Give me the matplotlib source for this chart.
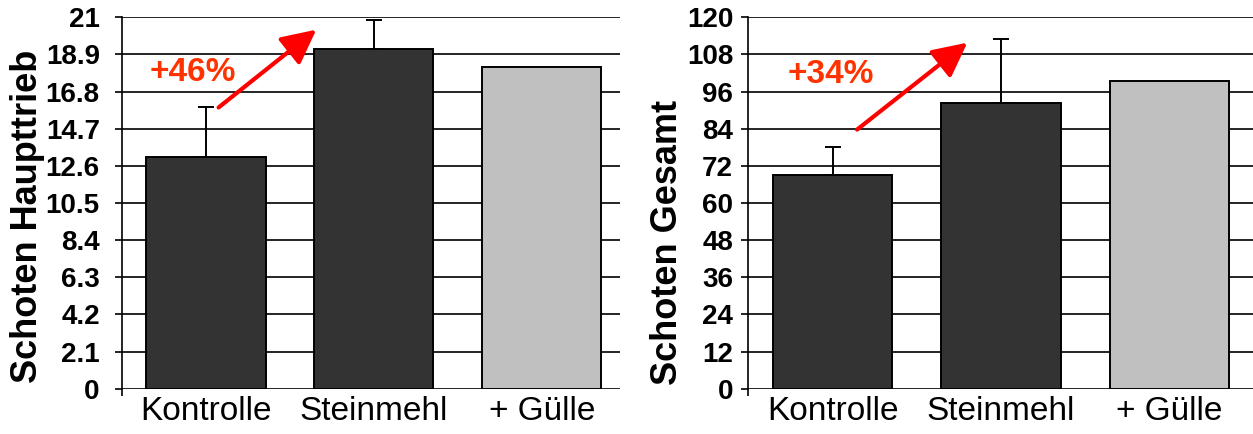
import matplotlib
matplotlib.use('Agg')
import matplotlib.pyplot as plt

plt.rcParams['font.family'] = ['Liberation Sans', 'DejaVu Sans']

categories = ['Kontrolle', 'Steinmehl', '+ Gülle']
bar_colors = ['#333333', '#333333', '#C0C0C0']

haupttrieb_values = [13.12, 19.2, 18.19]
haupttrieb_errors = [2.82, 1.64, 0.0]
haupttrieb_ticks = [0, 2.1, 4.2, 6.3, 8.4, 10.5, 12.6, 14.7, 16.8, 18.9, 21]
haupttrieb_ticklabels = ['0', '2.1', '4.2', '6.3', '8.4', '10.5', '12.6', '14.7', '16.8', '18.9', '21']

gesamt_values = [69.1, 92.4, 99.3]
gesamt_errors = [9.1, 20.6, 0.0]
gesamt_ticks = [0, 12, 24, 36, 48, 60, 72, 84, 96, 108, 120]
gesamt_ticklabels = [str(t) for t in gesamt_ticks]


def draw_panel(ax, values, errors, ticks, ticklabels, ylabel, pct_text,
               text_pos, arrow_start, arrow_end, xmax, label_pos, tick_pad):
    x = range(len(categories))
    ax.bar(x, values, width=0.71, color=bar_colors, edgecolor='black',
           linewidth=1.4, zorder=3)
    # one-sided error bars (only upward), none for the last bar
    for xi, v, e in zip(x, values, errors):
        if e > 0:
            ax.errorbar(xi, v, yerr=[[0], [e]], fmt='none', ecolor='black',
                        elinewidth=1.4, capsize=6, capthick=1.4, zorder=2)

    ax.set_xlim(-0.5, xmax)
    ax.set_ylim(0, ticks[-1])
    ax.set_yticks(ticks)
    ax.set_yticklabels(ticklabels, fontsize=20, fontweight='bold')
    ax.set_xticks(list(x))
    ax.set_xticklabels(categories, fontsize=24)
    ax.tick_params(axis='x', length=0, pad=5)
    ax.tick_params(axis='y', length=5, width=1.2, pad=tick_pad)
    ax.set_xticks([-0.5], minor=True)
    ax.tick_params(axis='x', which='minor', length=5, width=1.2)

    ax.yaxis.grid(True, color='black', linewidth=1.2, zorder=0)
    ax.set_axisbelow(True)
    for side in ('top', 'right', 'bottom'):
        ax.spines[side].set_visible(False)
    ax.spines['left'].set_linewidth(1.2)
    ax.spines['left'].set_bounds(0, ticks[-1])

    ax.set_ylabel(ylabel, fontsize=26, fontweight='bold')
    ax.yaxis.set_label_coords(*label_pos)

    ax.text(text_pos[0], text_pos[1], pct_text, color='#FF3300', fontsize=24,
            fontweight='bold', ha='center', va='center', zorder=5)
    ax.annotate('', xy=arrow_end, xytext=arrow_start,
                arrowprops=dict(arrowstyle='-|>,head_length=0.7,head_width=0.35',
                                color='#FF0000', lw=3, mutation_scale=30,
                                shrinkA=0, shrinkB=0), zorder=5)


fig = plt.figure(figsize=(12.53, 4.34), dpi=100)
ax1 = fig.add_axes([0.0974, 0.1044, 0.3974, 0.8558])
ax2 = fig.add_axes([0.5973, 0.1044, 0.4027, 0.8558])

draw_panel(ax1, haupttrieb_values, haupttrieb_errors, haupttrieb_ticks, haupttrieb_ticklabels,
           'Schoten Haupttrieb', '+46%', (-0.08, 17.9), (0.075, 15.9), (0.657, 20.3),
           2.466, (-0.155, 0.464), 11)
draw_panel(ax2, gesamt_values, gesamt_errors, gesamt_ticks, gesamt_ticklabels,
           'Schoten Gesamt', '+34%', (-0.013, 101.5), (0.145, 83.7), (0.80, 111.8),
           2.496, (-0.125, 0.394), 6)

fig.savefig('out.png', dpi=100)
